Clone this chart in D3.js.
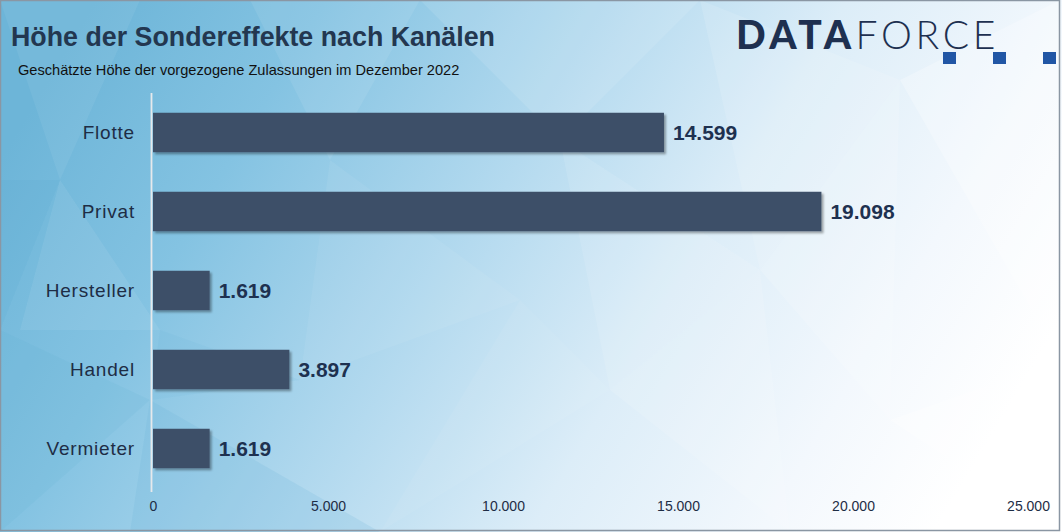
<!DOCTYPE html>
<html><head><meta charset="utf-8">
<script src="https://cdn.jsdelivr.net/npm/d3@7"></script>
<style>html,body{margin:0;padding:0;background:#fff;}svg{display:block;}</style>
</head><body><svg id="c" width="1062" height="532"></svg>
<script>
const categories = ["Flotte", "Privat", "Hersteller", "Handel", "Vermieter"];
const values = [14599, 19098, 1619, 3897, 1619];
const xTicks = [0, 5000, 10000, 15000, 20000, 25000];
const title = "Höhe der Sondereffekte nach Kanälen";
const subtitle = "Geschätzte Höhe der vorgezogene Zulassungen im Dezember 2022";

const W = 1062, H = 532;
const svg = d3.select("#c");
const defs = svg.append("defs");
const lg = defs.append("linearGradient").attr("id","bg").attr("x1","0").attr("y1","0.3").attr("x2","1").attr("y2","0.6");
[[0,"#6db5d8"],[0.2,"#84c3e2"],[0.45,"#b4daef"],[0.65,"#dcedf8"],[0.85,"#f3f8fd"],[1,"#ffffff"]].forEach(s=>lg.append("stop").attr("offset",s[0]).attr("stop-color",s[1]));
const f = defs.append("filter").attr("id","sh").attr("x","-5%").attr("y","-20%").attr("width","115%").attr("height","150%");
f.append("feDropShadow").attr("dx",2).attr("dy",2).attr("stdDeviation",1.2).attr("flood-color","#000").attr("flood-opacity",0.35);

svg.append("rect").attr("width",W).attr("height",H).attr("fill","url(#bg)");
// decorative low-poly facets
const facets = [
 [[0,0],[140,0],[60,180],"#ffffff",0.06],[[0,180],[60,180],[0,330],"#5aa9d0",0.15],
 [[60,180],[160,330],[20,330],"#ffffff",0.07],[[0,330],[150,400],[0,532],"#5aa9d0",0.12],
 [[150,400],[380,532],[130,532],"#6ab3d8",0.18],[[250,0],[420,0],[330,160],"#ffffff",0.08],
 [[330,160],[520,300],[300,380],"#ffffff",0.06],[[420,0],[700,0],[560,140],"#ffffff",0.1],
 [[560,140],[760,270],[610,390],"#ffffff",0.1],[[610,390],[760,270],[790,532],"#ffffff",0.12],
 [[760,270],[890,420],[900,80],"#ffffff",0.15],[[890,420],[1060,360],[1060,532],"#ffffff",0.3],
 [[900,80],[1060,0],[1060,360],"#ffffff",0.25],[[700,0],[900,80],[760,270],"#ffffff",0.12],
 [[380,532],[520,300],[610,390],"#ffffff",0.05],[[160,330],[300,380],[150,400],"#5fadd3",0.1]
];
facets.forEach(p=>svg.append("polygon").attr("points",p.slice(0,3).map(q=>q.join(",")).join(" ")).attr("fill",p[3]).attr("fill-opacity",p[4]));
svg.append("rect").attr("x",0.5).attr("y",0.5).attr("width",W-3).attr("height",H-2).attr("fill","none").attr("stroke","#8a96a3").attr("stroke-width",1.5);

// title
svg.append("text").attr("x",11).attr("y",46).text(title)
  .attr("font-family","Liberation Sans, Arial, sans-serif").attr("font-weight","bold").attr("font-size",26.8).attr("fill","#233750");
svg.append("text").attr("x",18).attr("y",75).text(subtitle)
  .attr("font-family","Liberation Sans, Arial, sans-serif").attr("font-size",14.6).attr("fill","#111");

// logo
const logo = svg.append("text").attr("x",736).attr("y",49).attr("font-family","Lato, Liberation Sans, sans-serif").attr("font-size",39).attr("fill","#1e3050");
logo.append("tspan").text("DATA").attr("font-weight","900").attr("letter-spacing","4.5");
logo.append("tspan").text("FORCE").attr("font-weight","300").attr("letter-spacing","3.7");
[943,993,1043].forEach(x=>svg.append("rect").attr("x",x).attr("y",52).attr("width",13).attr("height",12).attr("fill","#2156a5"));

// scales
const x = d3.scaleLinear().domain([0,25000]).range([153,1028]);
const y = d3.scaleBand().domain(categories).range([93,488]).paddingInner(0.5).paddingOuter(0.25);

// axis line
svg.append("line").attr("x1",151.5).attr("x2",151.5).attr("y1",93).attr("y2",492).attr("stroke","#e6e9ec").attr("stroke-width",1.8);

// bars
svg.append("g").selectAll("rect").data(values).join("rect")
  .attr("x",x(0)).attr("y",(d,i)=>y(categories[i])).attr("width",d=>x(d)-x(0)).attr("height",y.bandwidth())
  .attr("fill","#3c4f68").attr("filter","url(#sh)");

const fmt = d3.formatLocale({decimal:",",thousands:".",grouping:[3],currency:["","€"]}).format(",d");
svg.append("g").selectAll("text").data(values).join("text")
  .attr("x",d=>x(d)+9).attr("y",(d,i)=>y(categories[i])+y.bandwidth()/2+7.5)
  .text(d=>fmt(d)).attr("font-family","Liberation Sans, Arial, sans-serif").attr("font-weight","bold").attr("font-size",21).attr("fill","#1e3150");

// category axis
const ya = svg.append("g").attr("transform","translate(151,0)").call(d3.axisLeft(y).tickSize(0).tickPadding(16));
ya.select(".domain").remove();
ya.selectAll("text").attr("font-family","Liberation Sans, Arial, sans-serif").attr("font-size",19).attr("letter-spacing","0.8").attr("fill","#1e2d45").attr("dy","0.32em");

// x axis
const xa = svg.append("g").attr("transform","translate(0,501)").call(d3.axisBottom(x).tickValues(xTicks).tickSize(0).tickPadding(0).tickFormat(fmt));
xa.select(".domain").remove();
xa.selectAll("text").attr("font-family","Liberation Sans Narrow, Liberation Sans, Arial, sans-serif").attr("font-size",14).attr("fill","#1e2d45");
</script></body></html>
